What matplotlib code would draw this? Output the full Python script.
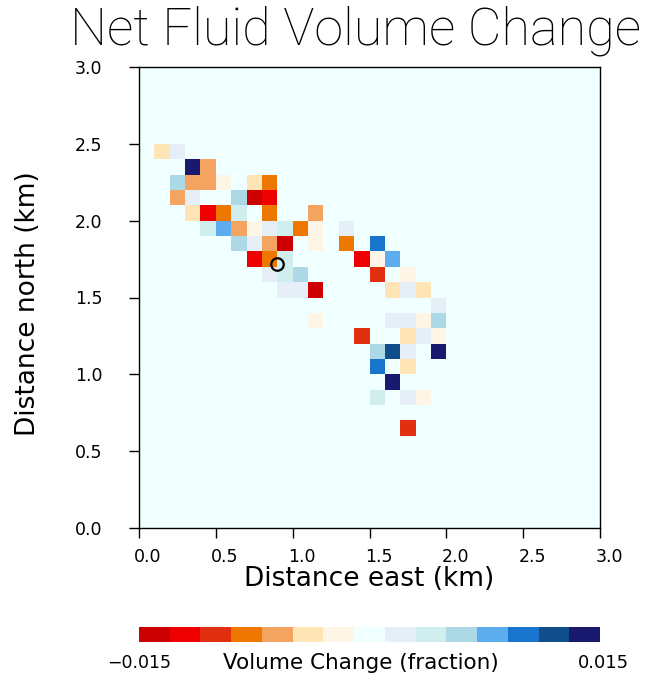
import numpy as np
import matplotlib
matplotlib.use("Agg")
import matplotlib.pyplot as plt
import matplotlib.transforms as mtransforms
from matplotlib.colors import ListedColormap, BoundaryNorm
from matplotlib import font_manager

# 15-class diverging palette for the volume-change field
palette = ["#CC0000", "#EE0000", "#E03010", "#EE7700", "#F4A460",
           "#FFE4B5", "#FDF5E6", "#F0FFFF", "#E6EEF8", "#D1EEEE",
           "#ADD8E6", "#5CACEE", "#1874CD", "#104E8B", "#191970"]
vmin, vmax = -0.015, 0.015
levels = np.linspace(vmin, vmax, len(palette) + 1)

# grid: 0.1 km cells over a 3 km x 3 km domain
cell = 0.1
ncell = 30

# nonzero cells: column index (east), row index (north), volume change
cell_cols = [1, 2,
             3, 4,
             2, 3, 4, 5, 7, 8,
             2, 3, 6, 7, 8,
             3, 4, 5, 6, 8, 11,
             4, 5, 6, 7, 8, 9, 10, 11, 13,
             6, 7, 8, 9, 11, 13, 15,
             7, 8, 9, 14, 15, 16,
             8, 9, 10, 15, 17,
             9, 10, 11, 16, 17, 18,
             19,
             11, 16, 17, 18, 19,
             14, 17, 18, 19,
             15, 16, 17, 19,
             15, 17,
             16,
             15, 17, 18,
             17]
cell_rows = [24, 24,
             23, 23,
             22, 22, 22, 22, 22, 22,
             21, 21, 21, 21, 21,
             20, 20, 20, 20, 20, 20,
             19, 19, 19, 19, 19, 19, 19, 19, 19,
             18, 18, 18, 18, 18, 18, 18,
             17, 17, 17, 17, 17, 17,
             16, 16, 16, 16, 16,
             15, 15, 15, 15, 15, 15,
             14,
             13, 13, 13, 13, 13,
             12, 12, 12, 12,
             11, 11, 11, 11,
             10, 10,
             9,
             8, 8, 8,
             6]
cell_values = [-0.004, 0.002,
               0.014, -0.006,
               0.006, -0.006, -0.006, -0.002, -0.004, -0.008,
               -0.006, 0.002, 0.006, -0.014, -0.012,
               -0.004, -0.012, -0.008, 0.004, -0.008, -0.006,
               0.004, 0.008, -0.006, -0.002, 0.002, 0.004, -0.008, -0.002, 0.002,
               0.006, 0.002, -0.006, -0.014, -0.002, -0.008, 0.010,
               -0.012, -0.008, 0.004, -0.012, -0.002, 0.008,
               0.002, 0.004, 0.006, -0.010, -0.002,
               0.002, 0.002, -0.014, -0.004, 0.002, -0.004,
               0.002,
               -0.002, 0.002, 0.002, -0.002, 0.006,
               -0.010, -0.004, 0.002, -0.002,
               0.006, 0.012, 0.002, 0.014,
               0.010, -0.004,
               0.014,
               0.004, 0.002, -0.002,
               -0.010]

# observation well location (km)
well_x = [0.90]
well_y = [1.715]

field = np.zeros((ncell, ncell))
for c, r, v in zip(cell_cols, cell_rows, cell_values):
    field[r, c] = v
edges = np.arange(ncell + 1) * cell

# thin typeface for the heading
title_font = font_manager.FontProperties(family="Roboto", weight="light", size=37.5)

W, H = 649, 675
fig = plt.figure(figsize=(W / 100, H / 100), dpi=100)
ax = fig.add_axes([139 / W, 1 - 528 / H, 461 / W, 461 / H])

cmap = ListedColormap(palette)
norm = BoundaryNorm(levels, cmap.N)
mesh = ax.pcolormesh(edges, edges, field, cmap=cmap, norm=norm)
ax.plot(well_x, well_y, "o", mfc="none", mec="black", ms=9, mew=1.6)

ax.set_xlim(0, 3)
ax.set_ylim(0, 3)
ticks = np.arange(0, 3.01, 0.5)
ax.set_xticks(ticks)
ax.set_yticks(ticks)
ax.set_xticklabels([f"{t:.1f}" for t in ticks])
ax.set_yticklabels([f"{t:.1f}" for t in ticks])
ax.tick_params(direction="out", length=7.5, width=1, labelsize=12.5,
               top=False, right=False)
ax.tick_params(axis="x", pad=7)
ax.tick_params(axis="y", pad=19)
# nudge the east-axis numbers slightly to the right
shift = mtransforms.ScaledTranslation(9 / 100, 0, fig.dpi_scale_trans)
for lab in ax.get_xticklabels():
    lab.set_transform(lab.get_transform() + shift)
for s in ax.spines.values():
    s.set_linewidth(1.0)

ax.set_xlabel("Distance east (km)", fontsize=19, va="center")
ax.xaxis.set_label_coords(0.5, (528 - 579) / 461)
ax.set_ylabel("Distance north (km)", fontsize=19, va="center")
ax.yaxis.set_label_coords((28 - 139) / 461, (528 - 304) / 461)
fig.text(356 / W, 1 - 31 / H, "Net Fluid Volume Change", fontproperties=title_font,
         ha="center", va="center")

# horizontal colour bar without outline
cax = fig.add_axes([139 / W, 1 - 642 / H, 461 / W, 15 / H])
cb = fig.colorbar(mesh, cax=cax, orientation="horizontal")
cb.outline.set_visible(False)
cb.set_ticks([])
cax.minorticks_off()
cax.tick_params(which="both", length=0, labelbottom=False)
fig.text(139 / W, 1 - 663 / H, "\u22120.015", fontsize=12.5, ha="center", va="center")
fig.text(603 / W, 1 - 663 / H, "0.015", fontsize=13, ha="center", va="center")
fig.text(361 / W, 1 - 663 / H, "Volume Change (fraction)", fontsize=15.5,
         ha="center", va="center")

fig.savefig("out.png", dpi=100)
